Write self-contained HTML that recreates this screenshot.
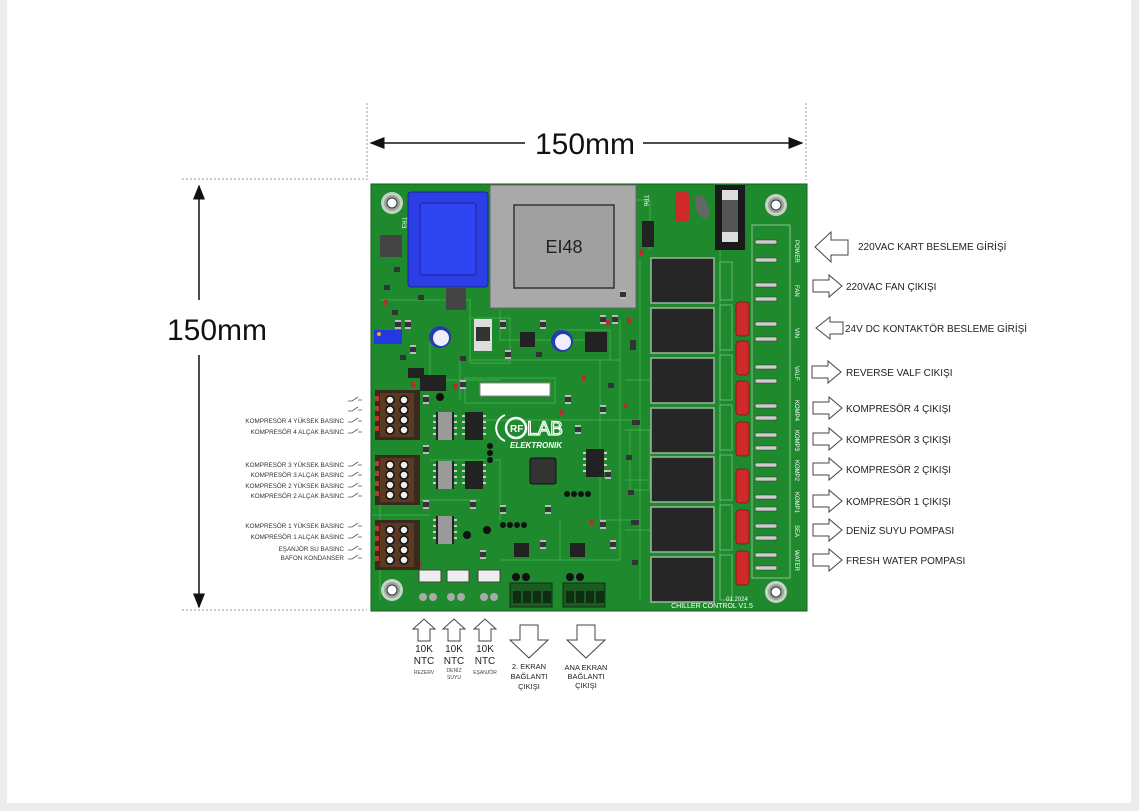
<!DOCTYPE html>
<html><head><meta charset="utf-8"><style>
html,body{margin:0;padding:0;background:#ececec;}
#w{position:absolute;left:7px;top:0;width:1124px;height:803px;background:#fff;}
svg{position:absolute;left:0;top:0}
text{font-family:"Liberation Sans",Arial,sans-serif;}
</style></head><body>
<div id="w"></div>
<svg width="1139" height="811" viewBox="0 0 1139 811" xmlns="http://www.w3.org/2000/svg">
<defs>
<marker id="ah" markerWidth="10" markerHeight="8" refX="9" refY="4" orient="auto"><path d="M0,0 L10,4 L0,8 Z" fill="#111"/></marker>
<g id="relay"><rect x="0" y="0" width="63" height="45" fill="#262626" stroke="#9bb89f" stroke-width="1.5"/></g>
<g id="rcap"><rect x="0" y="0" width="13" height="34" rx="3" fill="#cf2a2a" stroke="#7a1515" stroke-width="0.8"/></g>
<g id="conn"><rect x="0" y="0" width="45" height="50" fill="#3a2a1e"/><rect x="5" y="3" width="34" height="44" fill="#5a3a22"/>
<circle cx="15" cy="10" r="4" fill="#eee" stroke="#111" stroke-width="1.5"/><circle cx="29" cy="10" r="4" fill="#eee" stroke="#111" stroke-width="1.5"/>
<circle cx="15" cy="20" r="4" fill="#eee" stroke="#111" stroke-width="1.5"/><circle cx="29" cy="20" r="4" fill="#eee" stroke="#111" stroke-width="1.5"/>
<circle cx="15" cy="30" r="4" fill="#eee" stroke="#111" stroke-width="1.5"/><circle cx="29" cy="30" r="4" fill="#eee" stroke="#111" stroke-width="1.5"/>
<circle cx="15" cy="40" r="4" fill="#eee" stroke="#111" stroke-width="1.5"/><circle cx="29" cy="40" r="4" fill="#eee" stroke="#111" stroke-width="1.5"/>
<rect x="0" y="6" width="4" height="5" fill="#c0392b"/><rect x="0" y="16" width="4" height="5" fill="#c0392b"/><rect x="0" y="26" width="4" height="5" fill="#c0392b"/><rect x="0" y="36" width="4" height="5" fill="#c0392b"/></g>
<g id="ic"><rect x="0" y="0" width="18" height="28" fill="#222"/><rect x="-3" y="3" width="3" height="2" fill="#ccc"/><rect x="-3" y="9" width="3" height="2" fill="#ccc"/><rect x="-3" y="15" width="3" height="2" fill="#ccc"/><rect x="-3" y="21" width="3" height="2" fill="#ccc"/><rect x="18" y="3" width="3" height="2" fill="#ccc"/><rect x="18" y="9" width="3" height="2" fill="#ccc"/><rect x="18" y="15" width="3" height="2" fill="#ccc"/><rect x="18" y="21" width="3" height="2" fill="#ccc"/></g>
<g id="hole"><circle r="11" fill="#c8d4c8"/><circle r="8" fill="#9aa59a"/><circle r="5" fill="#fff" stroke="#333" stroke-width="1"/></g>
<g id="smd"><rect x="0" y="0" width="6" height="9" fill="#333"/><rect x="0" y="0" width="6" height="2" fill="#bbb"/><rect x="0" y="7" width="6" height="2" fill="#bbb"/></g>
<polygon id="ra" points="0,-6 16,-6 16,-11 29,0 16,11 16,6 0,6" fill="#fff" stroke="#444" stroke-width="1"/>
<polygon id="ua" points="-6,20 -6,8 -11,8 0,-2 11,8 6,8 6,20" fill="#fff" stroke="#444" stroke-width="1"/>
<polygon id="da" points="-9,0 9,0 9,15 19,15 0,33 -19,15 -9,15" fill="#fff" stroke="#444" stroke-width="1"/>
<path id="sw" d="M0,3 L4,3 L10,-1 M10,2 L14,2" fill="none" stroke="#555" stroke-width="0.8"/>
</defs>

<line x1="367" y1="103" x2="367" y2="180" stroke="#999" stroke-dasharray="2,2"/>
<line x1="806" y1="103" x2="806" y2="180" stroke="#999" stroke-dasharray="2,2"/>
<line x1="525" y1="143" x2="371" y2="143" stroke="#111" stroke-width="1.5" marker-end="url(#ah)"/>
<line x1="643" y1="143" x2="802" y2="143" stroke="#111" stroke-width="1.5" marker-end="url(#ah)"/>
<text x="585" y="154" font-size="30" text-anchor="middle" fill="#111">150mm</text>
<line x1="182" y1="179" x2="367" y2="179" stroke="#999" stroke-dasharray="2,2"/>
<line x1="182" y1="610" x2="367" y2="610" stroke="#999" stroke-dasharray="2,2"/>
<line x1="199" y1="300" x2="199" y2="186" stroke="#111" stroke-width="1.5" marker-end="url(#ah)"/>
<line x1="199" y1="355" x2="199" y2="607" stroke="#111" stroke-width="1.5" marker-end="url(#ah)"/>
<text x="217" y="340" font-size="30" text-anchor="middle" fill="#111">150mm</text>

<rect x="371" y="184" width="436" height="427" fill="#1e8a2d" stroke="#155f1f" stroke-width="1"/>
<g stroke="#3bb04a" stroke-width="1.2" fill="none" opacity="0.8">
<path d="M380 300 H470 V360 H620"/><path d="M430 330 V380 H500"/><path d="M470 420 H640 V470"/><path d="M600 360 V520 H640"/>
<path d="M430 460 H500 V520"/><path d="M640 260 V600"/><path d="M620 320 V560"/><path d="M500 560 H620"/><path d="M380 460 V600"/>
<path d="M720 230 V600"/><path d="M500 310 V340 H600"/><path d="M410 500 H480"/><path d="M560 520 V560"/><path d="M460 360 V400"/>
<path d="M630 200 H650 V250"/><path d="M560 330 H610 V360"/><path d="M372 515 H430"/><path d="M625 380 H650"/><path d="M625 430 H650 M625 480 H650 M625 530 H650"/>
<rect x="470" y="318" width="40" height="45"/><rect x="465" y="378" width="90" height="25"/><rect x="630" y="430" width="20" height="60"/>
</g>
<use href="#hole" x="392" y="203"/><use href="#hole" x="776" y="205"/><use href="#hole" x="392" y="590"/><use href="#hole" x="776" y="592"/>

<rect x="408" y="192" width="80" height="95" rx="3" fill="#2c3ee6" stroke="#1a2690"/>
<rect x="420" y="203" width="56" height="72" rx="3" fill="#2f45f2" stroke="#1a2690"/>
<rect x="490" y="185" width="146" height="123" fill="#a9a9a9" stroke="#666"/>
<rect x="514" y="205" width="100" height="83" fill="#a0a0a0" stroke="#333" stroke-width="1.5"/>
<text x="564" y="253" font-size="18" text-anchor="middle" fill="#222">EI48</text>
<text x="644" y="195" font-size="6" fill="#fff" transform="rotate(90 644 195)">TR6</text>
<text x="402" y="217" font-size="6" fill="#fff" transform="rotate(90 402 217)">TR3</text>

<rect x="380" y="235" width="22" height="22" fill="#444"/><rect x="446" y="288" width="20" height="22" fill="#444"/>
<rect x="374" y="330" width="28" height="14" fill="#2438e0"/><circle cx="379" cy="334" r="2" fill="#e0b020"/>
<circle cx="440" cy="337" r="11" fill="#263bb0"/><circle cx="441" cy="338" r="8" fill="#eef"/>
<circle cx="562" cy="341" r="11" fill="#263bb0"/><circle cx="563" cy="342" r="8" fill="#eef"/>
<rect x="474" y="319" width="18" height="32" fill="#ddd"/><rect x="476" y="327" width="14" height="14" fill="#333"/>
<rect x="520" y="332" width="15" height="15" fill="#222"/><rect x="585" y="332" width="22" height="20" fill="#222"/>
<rect x="420" y="375" width="26" height="16" fill="#222"/><rect x="408" y="368" width="16" height="10" fill="#222"/>
<rect x="480" y="383" width="70" height="13" fill="#fff" stroke="#888"/>
<g fill="#b03030"><rect x="411" y="382" width="4" height="5"/><rect x="453" y="384" width="4" height="5"/><rect x="582" y="376" width="4" height="5"/><rect x="627" y="318" width="4" height="5"/><rect x="624" y="403" width="4" height="5"/><rect x="640" y="250" width="4" height="5"/><rect x="384" y="300" width="4" height="5"/><rect x="606" y="320" width="4" height="5"/><rect x="560" y="410" width="4" height="5"/><rect x="418" y="562" width="4" height="5"/><rect x="590" y="520" width="4" height="5"/></g>
<g fill="#333"><rect x="394" y="267" width="6" height="5"/><rect x="384" y="285" width="6" height="5"/><rect x="418" y="295" width="6" height="5"/><rect x="392" y="310" width="6" height="5"/><rect x="400" y="355" width="6" height="5"/><rect x="460" y="356" width="6" height="5"/><rect x="536" y="352" width="6" height="5"/><rect x="608" y="383" width="6" height="5"/><rect x="630" y="340" width="6" height="10"/><rect x="632" y="420" width="8" height="5"/><rect x="626" y="455" width="6" height="5"/><rect x="628" y="490" width="6" height="5"/><rect x="631" y="520" width="8" height="5"/><rect x="632" y="560" width="6" height="5"/></g>
<use href="#smd" x="395" y="320"/><use href="#smd" x="405" y="320"/><use href="#smd" x="500" y="320"/><use href="#smd" x="540" y="320"/><use href="#smd" x="600" y="315"/><use href="#smd" x="612" y="315"/>
<use href="#smd" x="410" y="345"/><use href="#smd" x="505" y="350"/><use href="#smd" x="460" y="380"/><use href="#smd" x="565" y="395"/><use href="#smd" x="600" y="405"/>
<use href="#smd" x="423" y="395"/><use href="#smd" x="423" y="445"/><use href="#smd" x="423" y="500"/><use href="#smd" x="470" y="500"/><use href="#smd" x="480" y="550"/>
<use href="#smd" x="500" y="505"/><use href="#smd" x="545" y="505"/><use href="#smd" x="600" y="520"/><use href="#smd" x="610" y="540"/><use href="#smd" x="540" y="540"/>
<use href="#smd" x="620" y="290"/><use href="#smd" x="605" y="470"/><use href="#smd" x="575" y="425"/>
<rect x="642" y="221" width="12" height="26" fill="#222"/>

<use href="#conn" x="375" y="390"/><use href="#conn" x="375" y="455"/><use href="#conn" x="375" y="520"/>
<use href="#ic" x="436" y="412"/><use href="#ic" x="465" y="412"/><use href="#ic" x="436" y="461"/><use href="#ic" x="465" y="461"/><use href="#ic" x="436" y="516"/>
<rect x="438" y="412" width="14" height="28" fill="#9a9a9a"/><rect x="438" y="461" width="14" height="28" fill="#9a9a9a"/><rect x="438" y="516" width="14" height="28" fill="#9a9a9a"/>
<use href="#ic" x="586" y="449"/>
<rect x="530" y="458" width="26" height="26" rx="2" fill="#333" stroke="#111"/>
<g fill="#111"><circle cx="490" cy="446" r="3"/><circle cx="490" cy="453" r="3"/><circle cx="490" cy="460" r="3"/>
<circle cx="567" cy="494" r="3"/><circle cx="574" cy="494" r="3"/><circle cx="581" cy="494" r="3"/><circle cx="588" cy="494" r="3"/>
<circle cx="503" cy="525" r="3"/><circle cx="510" cy="525" r="3"/><circle cx="517" cy="525" r="3"/><circle cx="524" cy="525" r="3"/>
<circle cx="467" cy="535" r="4"/><circle cx="487" cy="530" r="4"/><circle cx="440" cy="397" r="4"/></g>
<rect x="514" y="543" width="15" height="14" fill="#222"/><rect x="570" y="543" width="15" height="14" fill="#222"/>
<path d="M505 415 a14 14 0 0 0 0 26" fill="none" stroke="#fff" stroke-width="2"/>
<circle cx="516" cy="428" r="10" fill="none" stroke="#fff" stroke-width="2.5"/>
<text x="510" y="432" font-size="10" fill="#fff" font-weight="bold">RF</text>
<text x="527" y="435" font-size="19" fill="none" stroke="#fff" stroke-width="1.2">LAB</text>
<text x="510" y="448" font-size="8" fill="#fff" font-style="italic" font-weight="bold">ELEKTRONIK</text>

<g fill="#eee" stroke="#444"><rect x="419" y="570" width="22" height="12"/><rect x="447" y="570" width="22" height="12"/><rect x="478" y="570" width="22" height="12"/></g>
<g fill="#aaa"><circle cx="423" cy="597" r="4"/><circle cx="433" cy="597" r="4"/><circle cx="451" cy="597" r="4"/><circle cx="461" cy="597" r="4"/><circle cx="484" cy="597" r="4"/><circle cx="494" cy="597" r="4"/></g>
<rect x="510" y="583" width="42" height="24" fill="#1c5a22" stroke="#0e3311"/><rect x="563" y="583" width="42" height="24" fill="#1c5a22" stroke="#0e3311"/>
<g fill="#0e2e12"><rect x="513" y="591" width="8" height="12"/><rect x="523" y="591" width="8" height="12"/><rect x="533" y="591" width="8" height="12"/><rect x="543" y="591" width="8" height="12"/>
<rect x="566" y="591" width="8" height="12"/><rect x="576" y="591" width="8" height="12"/><rect x="586" y="591" width="8" height="12"/><rect x="596" y="591" width="8" height="12"/></g>
<g fill="#111"><circle cx="516" cy="577" r="4"/><circle cx="526" cy="577" r="4"/><circle cx="570" cy="577" r="4"/><circle cx="580" cy="577" r="4"/></g>

<use href="#relay" x="651" y="258"/><use href="#relay" x="651" y="308"/><use href="#relay" x="651" y="358"/><use href="#relay" x="651" y="408"/><use href="#relay" x="651" y="457"/><use href="#relay" x="651" y="507"/><use href="#relay" x="651" y="557"/>
<use href="#rcap" x="736" y="302"/><use href="#rcap" x="736" y="341"/><use href="#rcap" x="736" y="381"/><use href="#rcap" x="736" y="422"/><use href="#rcap" x="736" y="469"/><use href="#rcap" x="736" y="510"/><use href="#rcap" x="736" y="551"/>
<g fill="none" stroke="#7fbf88" stroke-width="0.8"><rect x="720" y="262" width="12" height="38"/><rect x="720" y="305" width="12" height="45"/><rect x="720" y="355" width="12" height="45"/><rect x="720" y="405" width="12" height="45"/><rect x="720" y="455" width="12" height="45"/><rect x="720" y="505" width="12" height="45"/><rect x="720" y="555" width="12" height="45"/></g>
<rect x="675" y="192" width="14" height="30" rx="3" fill="#cf2a2a"/>
<ellipse cx="702" cy="207" rx="6" ry="12" fill="#666" transform="rotate(-20 702 207)"/>
<rect x="715" y="185" width="30" height="65" fill="#1a1a1a"/><rect x="722" y="190" width="16" height="52" fill="#ddd"/><rect x="722" y="200" width="16" height="32" fill="#555"/>
<rect x="752" y="225" width="38" height="353" fill="none" stroke="#8fc095" stroke-width="1"/>
<g fill="#ccc" stroke="#333" stroke-width="0.6">
<rect x="755" y="240" width="22" height="4" rx="2"/><rect x="755" y="258" width="22" height="4" rx="2"/><rect x="755" y="283" width="22" height="4" rx="2"/><rect x="755" y="297" width="22" height="4" rx="2"/>
<rect x="755" y="322" width="22" height="4" rx="2"/><rect x="755" y="337" width="22" height="4" rx="2"/><rect x="755" y="365" width="22" height="4" rx="2"/><rect x="755" y="379" width="22" height="4" rx="2"/>
<rect x="755" y="404" width="22" height="4" rx="2"/><rect x="755" y="416" width="22" height="4" rx="2"/><rect x="755" y="433" width="22" height="4" rx="2"/><rect x="755" y="446" width="22" height="4" rx="2"/>
<rect x="755" y="463" width="22" height="4" rx="2"/><rect x="755" y="477" width="22" height="4" rx="2"/><rect x="755" y="495" width="22" height="4" rx="2"/><rect x="755" y="507" width="22" height="4" rx="2"/>
<rect x="755" y="524" width="22" height="4" rx="2"/><rect x="755" y="536" width="22" height="4" rx="2"/><rect x="755" y="553" width="22" height="4" rx="2"/><rect x="755" y="566" width="22" height="4" rx="2"/></g>
<g font-size="6" fill="#fff">
<text transform="translate(795 240) rotate(90)">POWER</text><text transform="translate(795 285) rotate(90)">FAN</text>
<text transform="translate(795 328) rotate(90)">VIN</text><text transform="translate(795 366) rotate(90)">VALF</text>
<text transform="translate(795 400) rotate(90)">KOMP4</text><text transform="translate(795 430) rotate(90)">KOMP3</text>
<text transform="translate(795 460) rotate(90)">KOMP2</text><text transform="translate(795 492) rotate(90)">KOMP1</text>
<text transform="translate(795 525) rotate(90)">SEA</text><text transform="translate(795 550) rotate(90)">WATER</text></g>
<text x="712" y="608" font-size="7" fill="#fff" text-anchor="middle" font-family="Liberation Mono">CHILLER CONTROL V1.5</text>
<text x="737" y="601" font-size="6" fill="#fff" text-anchor="middle" font-family="Liberation Mono">01.2024</text>

<polygon points="848,240 831,240 831,232 815,247 831,262 831,255 848,255" fill="#fff" stroke="#444"/>
<text x="858" y="250" font-size="10" fill="#222">220VAC KART BESLEME GİRİŞİ</text>
<use href="#ra" x="813" y="286"/><text x="846" y="290" font-size="10" fill="#222">220VAC FAN ÇIKIŞI</text>
<polygon points="843,322 830,322 830,317 816,328 830,339 830,334 843,334" fill="#fff" stroke="#444"/>
<text x="845" y="332" font-size="10" fill="#222">24V DC KONTAKTÖR BESLEME GİRİŞİ</text>
<use href="#ra" x="812" y="372"/><text x="846" y="376" font-size="10" fill="#222">REVERSE VALF CIKIŞI</text>
<use href="#ra" x="813" y="408"/><text x="846" y="412" font-size="10" fill="#222">KOMPRESÖR 4 ÇIKIŞI</text>
<use href="#ra" x="813" y="439"/><text x="846" y="443" font-size="10" fill="#222">KOMPRESÖR 3 ÇIKIŞI</text>
<use href="#ra" x="813" y="469"/><text x="846" y="473" font-size="10" fill="#222">KOMPRESÖR 2 ÇIKIŞI</text>
<use href="#ra" x="813" y="501"/><text x="846" y="505" font-size="10" fill="#222">KOMPRESÖR 1 ÇIKIŞI</text>
<use href="#ra" x="813" y="530"/><text x="846" y="534" font-size="10" fill="#222">DENİZ SUYU POMPASI</text>
<use href="#ra" x="813" y="560"/><text x="846" y="564" font-size="10" fill="#222">FRESH WATER POMPASI</text>

<g font-size="6.3" fill="#333" text-anchor="end">
<text x="344" y="423">KOMPRESÖR 4 YÜKSEK BASINC</text><text x="344" y="434">KOMPRESÖR 4 ALÇAK BASINC</text>
<text x="344" y="467">KOMPRESÖR 3 YÜKSEK BASINC</text><text x="344" y="477">KOMPRESÖR 3 ALÇAK BASINC</text>
<text x="344" y="488">KOMPRESÖR 2 YÜKSEK BASINC</text><text x="344" y="498">KOMPRESÖR 2 ALÇAK BASINC</text>
<text x="344" y="528">KOMPRESÖR 1 YÜKSEK BASINC</text><text x="344" y="539">KOMPRESÖR 1 ALÇAK BASINC</text>
<text x="344" y="551">EŞANJÖR SU BASINC</text><text x="344" y="560">BAFON KONDANSER</text></g>
<use href="#sw" x="348" y="398"/><use href="#sw" x="348" y="408"/><use href="#sw" x="348" y="419"/><use href="#sw" x="348" y="430"/>
<use href="#sw" x="348" y="463"/><use href="#sw" x="348" y="473"/><use href="#sw" x="348" y="484"/><use href="#sw" x="348" y="494"/>
<use href="#sw" x="348" y="524"/><use href="#sw" x="348" y="535"/><use href="#sw" x="348" y="547"/><use href="#sw" x="348" y="556"/>

<use href="#ua" x="424" y="621"/><use href="#ua" x="454" y="621"/><use href="#ua" x="485" y="621"/>
<g font-size="10" fill="#222" text-anchor="middle">
<text x="424" y="652">10K</text><text x="424" y="664">NTC</text>
<text x="454" y="652">10K</text><text x="454" y="664">NTC</text>
<text x="485" y="652">10K</text><text x="485" y="664">NTC</text></g>
<g font-size="5" fill="#444" text-anchor="middle"><text x="424" y="674">REZERV</text><text x="454" y="672">DENİZ</text><text x="454" y="679">SUYU</text><text x="485" y="674">EŞANJÖR</text></g>
<use href="#da" x="529" y="625"/><use href="#da" x="586" y="625"/>
<g font-size="7.5" fill="#222" text-anchor="middle">
<text x="529" y="669">2. EKRAN</text><text x="529" y="679">BAĞLANTI</text><text x="529" y="689">ÇIKIŞI</text>
<text x="586" y="670">ANA EKRAN</text><text x="586" y="679">BAĞLANTI</text><text x="586" y="688">ÇIKIŞI</text></g>
</svg>
</body></html>
